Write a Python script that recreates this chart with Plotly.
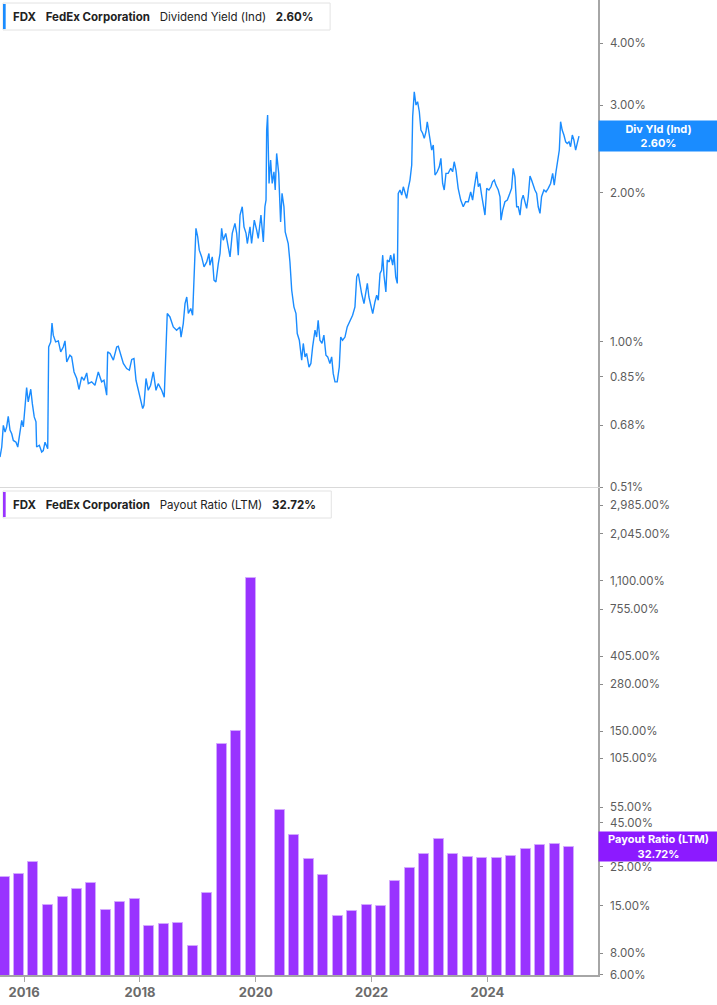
import numpy as np
import plotly.graph_objects as go
from plotly.subplots import make_subplots


# Dividend yield (indicated), in percent
DY_DATES = [
    '2015-08-02', '2015-08-13', '2015-08-23', '2015-09-03', '2015-09-13', '2015-09-23', '2015-10-04', '2015-10-15', '2015-10-25', '2015-11-11',
    '2015-11-22', '2015-12-06', '2015-12-17', '2015-12-27', '2016-01-07', '2016-01-17', '2016-01-27', '2016-02-12', '2016-02-22', '2016-03-05',
    '2016-03-16', '2016-03-20', '2016-04-06', '2016-04-21', '2016-05-01', '2016-05-12', '2016-05-29', '2016-06-04', '2016-06-17', '2016-06-25',
    '2016-07-03', '2016-07-18', '2016-08-04', '2016-08-19', '2016-09-04', '2016-09-15', '2016-09-26', '2016-10-16', '2016-10-27', '2016-11-11',
    '2016-11-28', '2016-12-12', '2016-12-29', '2017-01-13', '2017-01-30', '2017-02-09', '2017-03-02', '2017-03-23', '2017-04-13', '2017-05-04',
    '2017-05-19', '2017-06-05', '2017-06-11', '2017-06-26', '2017-07-17', '2017-08-07', '2017-08-17', '2017-09-01', '2017-09-18', '2017-10-09',
    '2017-10-26', '2017-11-10', '2017-11-24', '2017-12-07', '2017-12-21', '2018-01-05', '2018-01-18', '2018-01-26', '2018-02-08', '2018-02-22',
    '2018-03-09', '2018-03-26', '2018-04-12', '2018-04-26', '2018-05-18', '2018-06-03', '2018-06-12', '2018-06-22', '2018-07-09', '2018-07-30',
    '2018-08-20', '2018-09-10', '2018-09-17', '2018-10-01', '2018-10-12', '2018-10-23', '2018-11-02', '2018-11-17', '2018-11-29', '2018-12-08',
    '2018-12-20', '2018-12-31', '2019-01-10', '2019-01-25', '2019-02-09', '2019-02-26', '2019-03-12', '2019-03-18', '2019-04-02', '2019-04-13',
    '2019-04-25', '2019-05-10', '2019-05-21', '2019-05-31', '2019-06-10', '2019-06-26', '2019-07-08', '2019-07-23', '2019-08-06', '2019-08-23',
    '2019-09-03', '2019-09-13', '2019-09-24', '2019-10-08', '2019-10-19', '2019-11-01', '2019-11-09', '2019-11-26', '2019-12-06', '2019-12-23',
    '2020-01-07', '2020-01-17', '2020-02-03', '2020-02-18', '2020-02-28', '2020-03-06', '2020-03-10', '2020-03-16', '2020-03-25', '2020-04-04',
    '2020-04-14', '2020-04-25', '2020-05-03', '2020-05-12', '2020-05-25', '2020-06-06', '2020-06-15', '2020-06-27', '2020-07-05', '2020-07-24',
    '2020-08-04', '2020-08-15', '2020-08-29', '2020-09-11', '2020-09-19', '2020-10-02', '2020-10-17', '2020-10-27', '2020-11-07', '2020-11-17',
    '2020-12-02', '2020-12-14', '2020-12-25', '2021-01-09', '2021-01-19', '2021-01-29', '2021-02-09', '2021-02-22', '2021-03-06', '2021-03-19',
    '2021-03-30', '2021-04-13', '2021-04-24', '2021-05-04', '2021-05-15', '2021-05-29', '2021-06-11', '2021-06-20', '2021-07-02', '2021-07-17',
    '2021-07-31', '2021-08-17', '2021-09-03', '2021-09-18', '2021-09-29', '2021-10-09', '2021-10-20', '2021-10-30', '2021-11-14', '2021-11-24',
    '2021-12-05', '2021-12-15', '2021-12-26', '2022-01-08', '2022-01-22', '2022-02-02', '2022-02-12', '2022-02-23', '2022-03-05', '2022-03-12',
    '2022-03-20', '2022-04-01', '2022-04-10', '2022-04-22', '2022-05-01', '2022-05-14', '2022-05-22', '2022-06-02', '2022-06-12', '2022-06-18',
    '2022-06-29', '2022-07-10', '2022-07-20', '2022-07-30', '2022-08-10', '2022-08-20', '2022-08-31', '2022-09-11', '2022-09-17', '2022-09-27',
    '2022-10-08', '2022-10-18', '2022-10-29', '2022-11-08', '2022-11-19', '2022-11-29', '2022-12-10', '2022-12-18', '2022-12-31', '2023-01-15',
    '2023-01-25', '2023-02-05', '2023-02-19', '2023-03-04', '2023-03-14', '2023-03-25', '2023-04-04', '2023-04-15', '2023-04-29', '2023-05-15',
    '2023-05-27', '2023-06-06', '2023-06-17', '2023-07-01', '2023-07-17', '2023-08-02', '2023-08-17', '2023-09-03', '2023-09-18', '2023-09-30',
    '2023-10-10', '2023-10-26', '2023-11-05', '2023-11-15', '2023-11-26', '2023-12-06', '2023-12-17', '2023-12-28', '2024-01-11', '2024-01-24',
    '2024-02-03', '2024-02-14', '2024-02-24', '2024-03-10', '2024-03-21', '2024-03-27', '2024-04-07', '2024-04-21', '2024-05-06', '2024-05-18',
    '2024-06-02', '2024-06-12', '2024-06-23', '2024-07-04', '2024-07-14', '2024-07-25', '2024-08-04', '2024-08-14', '2024-08-25', '2024-09-05',
    '2024-09-15', '2024-09-26', '2024-10-06', '2024-10-17', '2024-10-27', '2024-11-07', '2024-11-17', '2024-11-28', '2024-12-08', '2024-12-23',
    '2025-01-05', '2025-01-19', '2025-02-03', '2025-02-16', '2025-02-26', '2025-03-09', '2025-03-19', '2025-03-30', '2025-04-07', '2025-04-17',
    '2025-04-28', '2025-05-09', '2025-05-19', '2025-05-30', '2025-06-09', '2025-06-20', '2025-06-30', '2025-07-11', '2025-07-21', '2025-08-01',
]
DY_VALUES = [
    0.586, 0.614, 0.679, 0.658, 0.674, 0.708, 0.664, 0.653, 0.633, 0.628,
    0.614, 0.653, 0.695, 0.674, 0.739, 0.809, 0.757, 0.803, 0.751, 0.706,
    0.690, 0.614, 0.619, 0.600, 0.604, 0.628, 0.609, 0.977, 1.000, 1.092,
    1.032, 1.000, 1.005, 0.955, 0.977, 1.005, 0.911, 0.940, 0.933, 0.870,
    0.844, 0.802, 0.850, 0.837, 0.866, 0.824, 0.831, 0.818, 0.870, 0.831,
    0.837, 0.781, 0.955, 0.948, 0.919, 0.977, 0.980, 0.948, 0.905, 0.884,
    0.877, 0.922, 0.926, 0.837, 0.799, 0.757, 0.734, 0.745, 0.844, 0.799,
    0.818, 0.870, 0.799, 0.824, 0.799, 0.774, 0.985, 1.141, 1.123, 1.072,
    1.056, 1.072, 1.023, 1.089, 1.195, 1.232, 1.141, 1.168, 1.132, 1.395,
    1.694, 1.629, 1.531, 1.484, 1.417, 1.450, 1.508, 1.428, 1.484, 1.332,
    1.321, 1.439, 1.508, 1.694, 1.604, 1.655, 1.579, 1.484, 1.655, 1.734,
    1.655, 1.496, 1.802, 1.873, 1.706, 1.655, 1.579, 1.706, 1.579, 1.760,
    1.680, 1.617, 1.802, 1.591, 1.873, 1.932, 2.674, 2.867, 2.087, 2.326,
    2.087, 2.203, 2.024, 2.399, 2.187, 1.746, 1.993, 1.873, 1.667, 1.579,
    1.448, 1.271, 1.177, 1.141, 1.040, 1.008, 0.919, 0.993, 0.933, 0.948,
    0.890, 0.905, 0.977, 1.056, 1.023, 1.106, 1.008, 0.993, 1.032, 0.940,
    0.933, 0.905, 0.933, 0.863, 0.831, 0.831, 0.890, 1.023, 1.008, 1.023,
    1.072, 1.106, 1.132, 1.177, 1.353, 1.374, 1.291, 1.252, 1.195, 1.252,
    1.312, 1.232, 1.195, 1.141, 1.204, 1.242, 1.214, 1.374, 1.395, 1.496,
    1.363, 1.261, 1.462, 1.450, 1.496, 1.428, 1.508, 1.353, 1.312, 1.993,
    2.024, 1.977, 2.055, 1.993, 1.947, 2.040, 2.120, 2.273, 2.844, 3.194,
    3.003, 3.050, 2.911, 2.674, 2.634, 2.573, 2.653, 2.779, 2.634, 2.437,
    2.494, 2.170, 2.203, 2.255, 2.344, 2.087, 2.024, 2.187, 2.187, 2.239,
    2.203, 2.308, 2.221, 2.040, 1.932, 1.873, 1.917, 1.917, 2.007, 1.932,
    2.040, 2.203, 2.055, 2.087, 1.977, 1.887, 1.802, 2.040, 2.024, 2.055,
    2.103, 2.120, 2.071, 2.024, 1.962, 1.760, 1.844, 1.917, 1.932, 1.977,
    2.040, 2.239, 2.152, 1.873, 1.873, 1.802, 1.932, 1.977, 1.917, 1.859,
    1.962, 2.160, 2.120, 2.055, 2.024, 1.993, 1.873, 1.816, 1.962, 2.024,
    2.007, 2.040, 2.087, 2.187, 2.071, 2.203, 2.291, 2.437, 2.779, 2.674,
    2.613, 2.532, 2.513, 2.532, 2.475, 2.613, 2.553, 2.437, 2.513, 2.600,
]

# Payout ratio (LTM), in percent, by fiscal quarter end (Feb 2020 is blank)
PR_DATES = [
    '2015-08-31', '2015-11-30', '2016-02-29', '2016-05-31', '2016-08-31', '2016-11-30', '2017-02-28', '2017-05-31',
    '2017-08-31', '2017-11-30', '2018-02-28', '2018-05-31', '2018-08-31', '2018-11-30', '2019-02-28', '2019-05-31',
    '2019-08-31', '2019-11-30', '2020-02-29', '2020-05-31', '2020-08-31', '2020-11-30', '2021-02-28', '2021-05-31',
    '2021-08-31', '2021-11-30', '2022-02-28', '2022-05-31', '2022-08-31', '2022-11-30', '2023-02-28', '2023-05-31',
    '2023-08-31', '2023-11-30', '2024-02-29', '2024-05-31', '2024-08-31', '2024-11-30', '2025-02-28', '2025-05-31',
]
PR_VALUES = [
    22.0, 22.8, 26.7, 15.2, 16.9, 18.8, 20.2, 14.2,
    15.7, 16.3, 11.4, 11.7, 11.9, 8.8, 17.8, 127.3,
    151.0, 1140.0, None, 52.8, 38.1, 27.7, 22.5, 13.1,
    14.0, 15.1, 15.0, 20.7, 24.8, 29.8, 36.2, 29.6,
    28.6, 28.3, 28.1, 29.0, 31.7, 33.6, 33.9, 32.72,
]

DY_TICKS = [0.51, 0.68, 0.85, 1.0, 2.0, 3.0, 4.0]
PR_TICKS = [6, 8, 15, 25, 45, 55, 105, 150, 280, 405, 755, 1100, 2045, 2985]
YEAR_TICKS = ['2016-01-01', '2018-01-01', '2020-01-01', '2022-01-01', '2024-01-01']
YEAR_LABELS = ['2016', '2018', '2020', '2022', '2024']

BLUE = '#1a8cff'
PURPLE = '#9933ff'
LABEL_PURPLE = '#8c1aff'
TEXT = '#222222'
TICK_TEXT = '#5c5c5c'
FONT = 'Inter'


def pct(v):
    return '{:,.2f}%'.format(v)


fig = make_subplots(rows=2, cols=1, shared_xaxes=True, vertical_spacing=0.001)

fig.add_trace(go.Scatter(x=DY_DATES, y=DY_VALUES, mode='lines',
                         line=dict(color=BLUE, width=1.4),
                         showlegend=False), row=1, col=1)

fig.add_trace(go.Bar(x=PR_DATES, y=PR_VALUES,
                     width=63 * 24 * 3600 * 1000,
                     marker=dict(color=PURPLE,
                                 line=dict(color='#d2a8ff', width=1)),
                     showlegend=False), row=2, col=1)

x_range = ['2015-08-02', '2025-11-29']
for r in (1, 2):
    fig.update_xaxes(range=x_range, showgrid=False, zeroline=False,
                     row=r, col=1)
fig.update_xaxes(showline=True, linecolor='#d9d9d9', linewidth=1,
                 showticklabels=False, ticks='', row=1, col=1)
fig.update_xaxes(showline=True, linecolor='#a6a6a6', linewidth=1.5,
                 tickvals=YEAR_TICKS, ticktext=YEAR_LABELS,
                 ticks='outside', ticklen=5, tickcolor='#a6a6a6',
                 tickfont=dict(family=FONT, size=13, color='#6b6b6b',
                               weight='bold'),
                 row=2, col=1)

y_common = dict(type='log', side='right', showgrid=False, zeroline=False,
                showline=True, linecolor='#a6a6a6', linewidth=1.5,
                ticks='outside', ticklen=3, tickcolor='#8a8a8a',
                ticklabelstandoff=5,
                tickfont=dict(family=FONT, size=11.5, color=TICK_TEXT))
fig.update_yaxes(**y_common, domain=[0.5005, 1.0],
                 range=[np.log10(0.51), np.log10(4.89)],
                 tickvals=DY_TICKS, ticktext=[pct(v) for v in DY_TICKS],
                 row=1, col=1)
fig.update_yaxes(**y_common, domain=[0.0, 0.4995],
                 range=[np.log10(6), np.log10(3740)],
                 tickvals=PR_TICKS, ticktext=[pct(v) for v in PR_TICKS],
                 row=2, col=1)


def header(y_top, y_bottom, color, name, value, right):
    # boxed legend line with a coloured stripe on the left
    fig.add_shape(type='rect', xref='paper', yref='paper',
                  x0=0.005, x1=right, y0=y_bottom, y1=y_top,
                  line=dict(color='#e3e3e3', width=1), fillcolor='white',
                  layer='above')
    fig.add_shape(type='rect', xref='paper', yref='paper',
                  x0=0.005, x1=0.0095, y0=y_bottom + 0.001, y1=y_top - 0.001,
                  line=dict(width=0), fillcolor=color, layer='above')
    sp = '\u00a0\u00a0\u00a0'
    fig.add_annotation(xref='paper', yref='paper', x=0.019,
                       y=(y_top + y_bottom) / 2, xanchor='left',
                       yanchor='middle', showarrow=False,
                       text='<b>FDX</b>' + sp + '<b>FedEx Corporation</b>' + sp
                       + name + sp + '<b>' + value + '</b>',
                       font=dict(family=FONT, size=11.5, color=TEXT))


header(0.9969, 0.9692, BLUE, 'Dividend Yield (Ind)', pct(DY_VALUES[-1]), 0.552)
header(0.4964, 0.4687, PURPLE, 'Payout Ratio (LTM)', pct(PR_VALUES[-1]), 0.554)

# value tags on the right axis
fig.add_annotation(xref='paper', yref='y', x=1.0, y=np.log10(DY_VALUES[-1]),
                   xanchor='left', yanchor='middle', showarrow=False,
                   text='<b>Div Yld (Ind)</b><br><b>' + pct(DY_VALUES[-1]) + '</b>',
                   font=dict(family=FONT, size=11, color='white'),
                   bgcolor=BLUE, width=115, height=26, borderpad=2,
                   align='center')
fig.add_annotation(xref='paper', yref='y2', x=1.0, y=np.log10(PR_VALUES[-1]),
                   xanchor='left', yanchor='middle', showarrow=False,
                   text='<b>Payout Ratio (LTM)</b><br><b>' + pct(PR_VALUES[-1]) + '</b>',
                   font=dict(family=FONT, size=11, color='white'),
                   bgcolor=LABEL_PURPLE, width=115, height=25, borderpad=2,
                   align='center')

fig.update_layout(width=717, height=1005,
                  margin=dict(l=0, r=119, t=0, b=30),
                  plot_bgcolor='white', paper_bgcolor='white',
                  bargap=0, showlegend=False,
                  font=dict(family=FONT))

# drop the page's default body margin so the figure sits at the window corner
fig.write_html('out.html', config={'displayModeBar': False},
               post_script="document.body.style.margin='0';"
                           "document.body.style.overflow='hidden';")
